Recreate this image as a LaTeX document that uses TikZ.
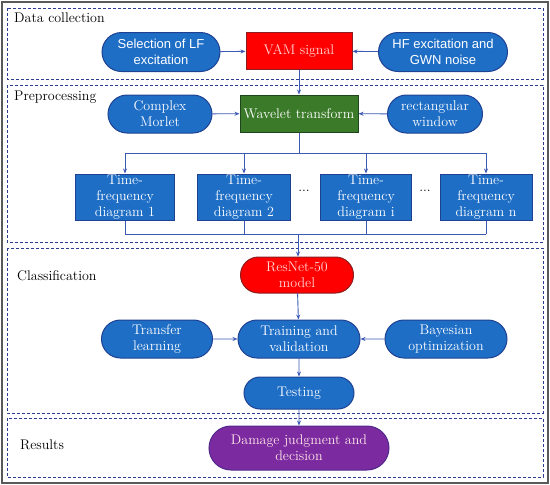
\documentclass[tikz,border=0pt]{standalone}
\usepackage{fontspec}
\newfontfamily\sansf{Liberation Sans}
\usetikzlibrary{shapes.misc,arrows.meta}
\definecolor{pblue}{RGB}{30,110,198}
\definecolor{pblueD}{RGB}{30,65,145}
\definecolor{arrc}{RGB}{60,90,180}
\definecolor{dashc}{RGB}{45,60,145}
\definecolor{vred}{RGB}{255,0,0}
\definecolor{vredD}{RGB}{140,30,30}
\definecolor{wgreen}{RGB}{58,122,40}
\definecolor{wgreenD}{RGB}{30,70,30}
\definecolor{dpurple}{RGB}{124,42,160}
\definecolor{dpurpleD}{RGB}{80,40,140}
\definecolor{pinkt}{RGB}{255,215,215}
\tikzset{
  pill/.style={rounded rectangle, fill=pblue, draw=pblueD, line width=1pt, text=white, align=center, inner sep=0pt, font=\fontsize{14}{16}\selectfont},
  sqbox/.style={rectangle, fill=pblue, draw=pblueD, line width=1pt, text=white, align=center, inner sep=0pt, font=\fontsize{14}{16}\selectfont},
  sansfont/.style={font=\sansf\fontsize{13}{16}\selectfont},
  arr/.style={draw=arrc, line width=0.9pt, -{Stealth[length=5pt,width=4pt]}},
  ln/.style={draw=arrc, line width=0.9pt},
  section/.style={draw=dashc, line width=0.8pt, dash pattern=on 3pt off 2pt},
  seclabel/.style={anchor=west, inner sep=0pt, font=\fontsize{14}{16}\selectfont},
}
\begin{document}
\begin{tikzpicture}[x=1pt,y=-1pt]
\useasboundingbox (0,0) rectangle (550,485);
\draw[gray!70!black, line width=1.6pt] (2,2) rectangle (548,483);
% sections
\draw[section] (7,8) rectangle (543,79);
\draw[section] (7,85) rectangle (543,242);
\draw[section] (7,248) rectangle (543,413);
\draw[section] (7,418) rectangle (543,477);
\node[seclabel] (l1) at (14,18) {Data collection};
\node[seclabel] (l2) at (14,97) {Preprocessing};
\node[seclabel] (l3) at (17,276) {Classification};
\node[seclabel] (l4) at (20,445) {Results};
% data collection
\node[pill, sansfont, minimum width=118pt, minimum height=39pt] (lf) at (161,52) {Selection of LF\\excitation};
\node[sqbox, fill=vred, draw=vredD, text=pinkt, minimum width=106pt, minimum height=37pt] (vam) at (299,51) {VAM signal};
\node[pill, sansfont, minimum width=129pt, minimum height=39pt] (hf) at (443,52) {HF excitation and\\GWN noise};
% preprocessing
\node[pill, minimum width=104pt, minimum height=38pt] (cm) at (160,114) {Complex\\Morlet};
\node[sqbox, fill=wgreen, draw=wgreenD, minimum width=118pt, minimum height=37pt] (wt) at (299,113.5) {Wavelet transform};
\node[pill, minimum width=95pt, minimum height=38pt] (rw) at (435,114) {rectangular\\window};
\node[sqbox, minimum width=99pt, minimum height=46pt] (tf1) at (125,197) {Time-\\frequency\\diagram 1};
\node[sqbox, minimum width=93pt, minimum height=46pt] (tf2) at (244,197) {Time-\\frequency\\diagram 2};
\node[sqbox, minimum width=91pt, minimum height=46pt] (tfi) at (366,197) {Time-\\frequency\\diagram i};
\node[sqbox, minimum width=92pt, minimum height=46pt] (tfn) at (486,197) {Time-\\frequency\\diagram n};
\node[font=\fontsize{14}{16}\selectfont] (d1) at (304,191) {...};
\node[font=\fontsize{14}{16}\selectfont] (d2) at (425,191) {...};
% classification
\node[pill, fill=vred, draw=vredD, text=pinkt, minimum width=113pt, minimum height=36pt] (res) at (297,275) {ResNet-50\\model};
\node[pill, minimum width=122pt, minimum height=38pt] (tv) at (299,339) {Training and\\validation};
\node[pill, minimum width=111pt, minimum height=38pt] (tl) at (157,339) {Transfer\\learning};
\node[pill, minimum width=122pt, minimum height=38pt] (bo) at (446,339) {Bayesian\\optimization};
\node[pill, minimum width=110pt, minimum height=32pt] (te) at (299,393) {Testing};
% results
\node[pill, fill=dpurple, draw=dpurpleD, text=pinkt!60!white, minimum width=180pt, minimum height=44pt] (dm) at (299,448) {Damage judgment and\\decision};
% connectors
\draw[arr] (lf) -- (vam);
\draw[arr] (hf) -- (vam);
\draw[arr] (vam) -- (wt);
\draw[arr] (cm) -- (wt);
\draw[arr] (rw) -- (wt);
\coordinate (b1) at (299,153);
\coordinate (b2) at (298,234);
\draw[ln] (wt.south) -- (b1);
\draw[ln] (tf1.north |- b1) -- (tfn.north |- b1);
\foreach \n in {tf1,tf2,tfi,tfn} {
  \draw[arr] (\n.north |- b1) -- (\n.north);
  \draw[ln] (\n.south) -- (\n.south |- b2);
}
\draw[ln] (tf1.south |- b2) -- (tfn.south |- b2);
\draw[arr] (b2) -- (res.north -| b2);
\draw[arr] (res) -- (tv);
\draw[arr] (tl) -- (tv);
\draw[arr] (bo) -- (tv);
\draw[arr] (tv) -- (te);
\draw[arr] (te) -- (dm);
\end{tikzpicture}
\end{document}
